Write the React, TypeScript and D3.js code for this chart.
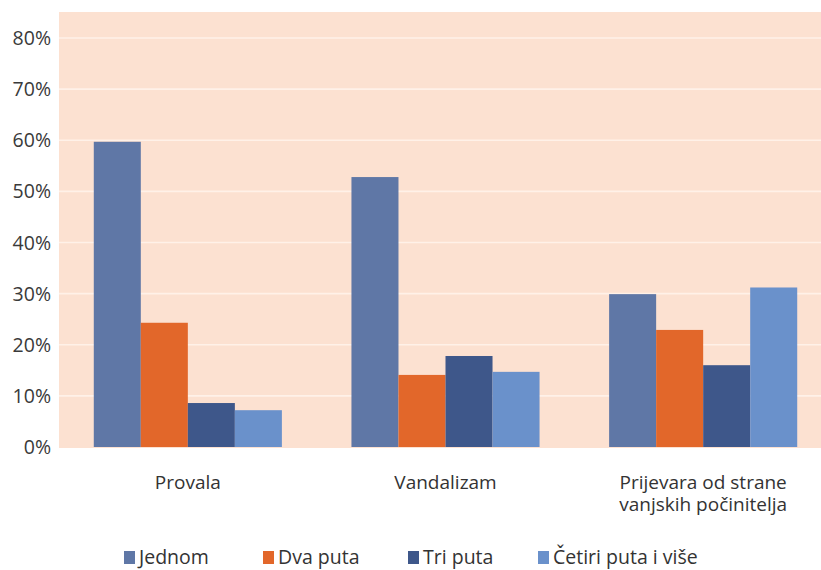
import React from "react";
import * as d3 from "d3";

const categories = ["Provala", "Vandalizam", "Prijevara od strane\nvanjskih počinitelja"];
const seriesNames = ["Jednom", "Dva puta", "Tri puta", "Četiri puta i više"];
const jednom = [59.7, 52.8, 29.9];
const dvaPuta = [24.3, 14.1, 22.9];
const triPuta = [8.6, 17.8, 16.0];
const cetiriPuta = [7.2, 14.7, 31.2];
const yTicks = [0, 10, 20, 30, 40, 50, 60, 70, 80];
const colors = ["#5f77a6", "#e2672a", "#3e578a", "#6a91cb"];

const W = 821;
const H = 570;
const FONT = "'Open Sans', 'Noto Sans', sans-serif";

export default function App() {
  const values = [jednom, dvaPuta, triPuta, cetiriPuta];
  const x0 = d3.scaleBand<string>().domain(categories).range([59, 832]).paddingInner(0.27).paddingOuter(0.135);
  const x1 = d3.scaleBand<string>().domain(seriesNames).range([0, x0.bandwidth()]).padding(0);
  const y = d3.scaleLinear().domain([0, 80]).range([447, 38]);
  const legendX = [124, 263, 408, 538];

  return (
    <>
      <style>{`body{margin:0}`}</style>
      <svg width={W} height={H} style={{ display: "block", fontFamily: FONT }}>
        <rect x={0} y={0} width={W} height={H} fill="#ffffff" />
        <rect x={59} y={12} width={W - 59} height={y(0) - 12 + 1} fill="#fce1d1" />
        {yTicks.map((t) => (
          <g key={t}>
            {t > 0 && (
              <line x1={59} x2={W} y1={y(t)} y2={y(t)} stroke="#fff1e8" strokeWidth={1.6} />
            )}
            <text x={51} y={y(t)} dy="0.36em" textAnchor="end" fontSize={19.5} fill="#3a3a3a">
              {t}%
            </text>
          </g>
        ))}
        {categories.map((c, ci) => (
          <g key={c} transform={`translate(${x0(c)},0)`}>
            {seriesNames.map((s, si) => (
              <rect
                key={s}
                x={x1(s)}
                y={y(values[si][ci])}
                width={x1.bandwidth()}
                height={y(0) - y(values[si][ci])}
                fill={colors[si]}
              />
            ))}
          </g>
        ))}
        {categories.map((c) => {
          const lines = c.split("\n");
          const cx = (x0(c) as number) + x0.bandwidth() / 2;
          return (
            <g key={c}>
              {lines.map((l, i) => (
                <text key={i} x={cx} y={489 + i * 22} textAnchor="middle" fontSize={19} fill="#333333">
                  {l}
                </text>
              ))}
            </g>
          );
        })}
        {seriesNames.map((s, i) => (
          <g key={s}>
            <rect x={legendX[i]} y={551} width={11} height={13} fill={colors[i]} />
            <text x={legendX[i] + 15} y={564} fontSize={19.5} fill="#333333">
              {s}
            </text>
          </g>
        ))}
      </svg>
    </>
  );
}
